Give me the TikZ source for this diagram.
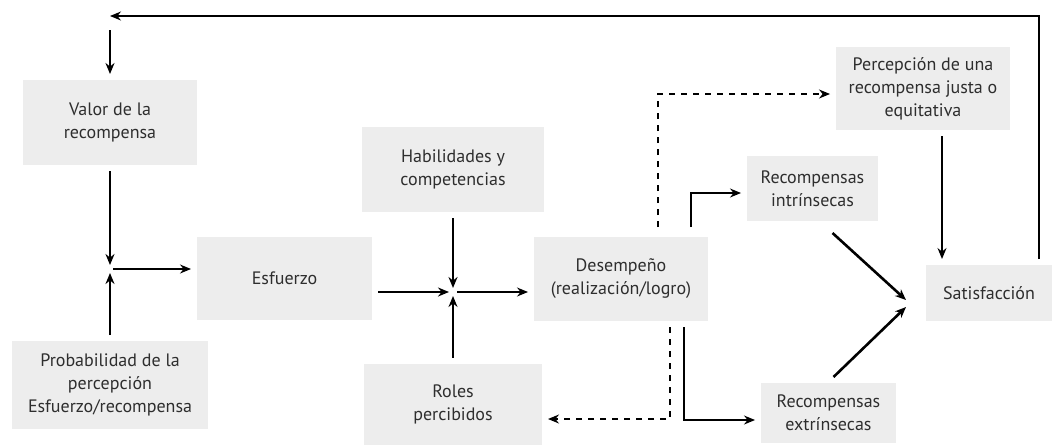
\documentclass[tikz,border=0pt]{standalone}
\usepackage{fontspec}
\setmainfont{PT Sans}
\usetikzlibrary{arrows.meta}
\definecolor{boxgray}{HTML}{EDEDED}
\definecolor{txtgray}{HTML}{2E2E2E}

\begin{document}
\begin{tikzpicture}[x=0.5pt, y=-0.5pt, >={Stealth[length=5.5pt,width=4.5pt]},
	main/.style = {fill=boxgray, text=txtgray, align=center, inner sep=0pt, outer sep=3pt,
		font=\fontsize{9}{11.5}\selectfont},
	thin line/.style = {line width=0.65pt},
	thick line/.style = {line width=1.3pt}]
	\useasboundingbox (0,0) rectangle (1052,445);

	%% Nodes
	\node[main, minimum width=87pt, minimum height=42.5pt] (1) at (110,122.5) {Valor de la\\recompensa};
	\node[main, minimum width=91pt, minimum height=42.5pt] (2) at (453,169.5) {Habilidades y\\competencias};
	\node[main, minimum width=87pt, minimum height=41.5pt] (3) at (923,88.5) {Percepción de una\\recompensa justa o\\equitativa};
	\node[main, minimum width=65.5pt, minimum height=32.5pt] (4) at (812.5,188.5) {Recompensas\\intrínsecas};

	\node[main, minimum width=87.5pt, minimum height=41.5pt] (5) at (284.5,278.5) {Esfuerzo};
	\node[main, minimum width=87pt, minimum height=42pt] (8) at (621,279) {Desempeño\\(realización/logro)};
	\node[main, minimum width=63pt, minimum height=28pt] (9) at (989,293) {Satisfacción};

	\node[main, minimum width=98pt, minimum height=44pt] (6) at (110,385) {Probabilidad de la\\percepción\\Esfuerzo/recompensa};
	\node[main, minimum width=89pt, minimum height=40.5pt] (7) at (453,404) {Roles\\percibidos};
	\node[main, minimum width=67.5pt, minimum height=30pt] (10) at (828.5,413) {Recompensas\\extrínsecas};

	%% Junctions
	\coordinate (j1) at (110,269);
	\coordinate (j2) at (453,292);
	\coordinate (t1) at (110,16);
	\coordinate (t2) at (110,30);

	%% Edges
	\draw[->, thin line] ([shift={(50,0)}]9.north) |- (t1);
	\draw[->, thick line] (t2) -- (1);
	\draw[->, thick line, shorten >=2pt] (1) -- (j1);
	\draw[->, thick line, shorten >=2pt] (6) -- (j1);
	\draw[->, thin line, shorten <=1.5pt] (j1) -- (j1 -| 5.west);

	\draw[->, thick line, shorten >=2pt] (5.east |- j2) -- (j2);
	\draw[->, thick line, shorten >=2pt] (2) -- (j2);
	\draw[->, thin line, shorten >=2pt] (7) -- (j2);
	\draw[->, thin line, shorten <=2pt] (j2) -- (j2 -| 8.west);

	\draw[->, thin line, dashed] ([shift={(37,-4)}]8.north) |- ([shift={(0,5.5)}]3.west);
	\draw[->, thin line] ([shift={(70,-4)}]8.north) |- ([shift={(0,4.5)}]4.west);
	\draw[->, thin line, dashed] ([shift={(49,0)}]8.south) |- ([shift={(0,15)}]7.east);
	\draw[->, thin line] ([shift={(63,0)}]8.south) |- ([shift={(0,7)}]10.west);

	\draw[->, thick line] ([shift={(20,6)}]4.south) -- ([shift={(-14,7)}]9.west);
	\draw[->, thick line] ([shift={(5,0)}]10.north) -- ([shift={(-14,14)}]9.west);
	\draw[->, thin line] ([shift={(19,0)}]3.south) -- ([shift={(-47,0)}]9.north);

\end{tikzpicture}
\end{document}
